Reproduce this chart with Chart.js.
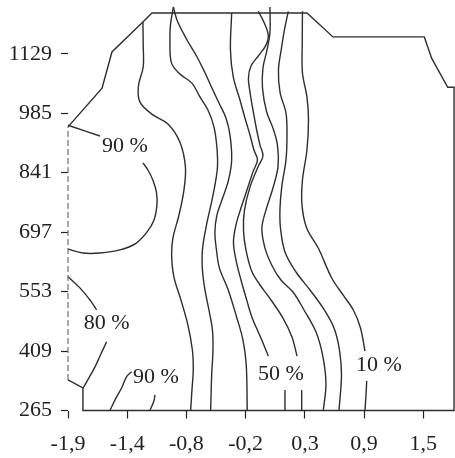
<!DOCTYPE html>
<html>
<head>
<meta charset="utf-8">
<script src="https://cdn.jsdelivr.net/npm/chart.js@4.4.1/dist/chart.umd.min.js"></script>
<style>
  html, body { margin: 0; padding: 0; background: #fff; }
  canvas { display: block; }
</style>
</head>
<body>
<canvas id="c" width="455" height="458"></canvas>
<script>
// Axis ticks: x positions are evenly spaced tick slots carrying rounded labels
const xTickLabels = ['-1,9', '-1,4', '-0,8', '-0,2', '0,3', '0,9', '1,5'];
const yTicks = [265, 409, 553, 697, 841, 985, 1129];

// Outline of the measured domain, [xSlot, y]
const domainEdge = [[0,952],[0.575,1046],[0.742,1133.5],[1.265,1206],[1.417,1228],[4.035,1228],
  [4.475,1170],[6.017,1170],[6.142,1118],[6.412,1048],[6.519,1048],[6.519,265],
  [0.252,265],[0.252,319.5],[0,339]];
const domainLeft = [[0,339],[0,952]];

// Iso-lines
const iso90TopA = [[0,956],[0.539,930]];
const iso90TopB = [[1.265,865],[1.35,847.6],[1.434,823],[1.493,794],[1.502,763],[1.451,726],
  [1.333,697],[1.147,670],[0.877,654],[0.539,646.5],[0.252,646.5],[0,656]];
const iso80A = [[0,589],[0.2,562],[0.37,533],[0.483,508.5]];
const iso80B = [[0.652,431.5],[0.556,402],[0.454,370],[0.353,344],[0.257,319.5]];
const iso90BotA = [[1.074,359],[0.99,347],[0.905,319.5],[0.809,295],[0.708,265]];
const iso90BotB = [[1.468,303],[1.451,288],[1.383,265]];

const lineA = [[1.265,1206],[1.27,1150],[1.27,1097],[1.189,1051],[1.215,1012],[1.434,981],
  [1.688,959],[1.89,915],[1.983,855],[1.958,799],[1.873,738],[1.772,683],[1.75,642],
  [1.789,588],[1.907,533],[2.025,472],[2.101,411],[2.115,363],[2.093,314.5],[2.071,265]];
const lineB = [[1.78,1242.5],[1.73,1199],[1.721,1163],[1.747,1107],[1.89,1080],[2.093,1058],
  [2.228,1024.5],[2.363,993],[2.465,952],[2.515,901],[2.524,855],[2.481,811],[2.414,763],
  [2.338,714],[2.27,654],[2.27,605.5],[2.313,557],[2.38,508.5],[2.439,460],[2.448,411.5],
  [2.426,351],[2.409,265]];
const lineC = [[1.78,1242.5],[1.84,1211],[2.008,1163],[2.177,1122],[2.313,1083],[2.431,1046],
  [2.549,1010],[2.667,973.5],[2.735,932.5],[2.764,872],[2.71,823],[2.617,782],[2.515,738.5],
  [2.481,697],[2.507,654],[2.557,610],[2.706,557],[2.848,491],[2.954,436],[3.01,375],[3.027,265]];
const lineD = [[2.764,1228],[2.743,1138],[2.791,1073],[2.904,1017],[2.988,973.5],[3.073,932.5],
  [3.14,896],[3.199,872],[3.123,843],[3.022,799],[2.921,755.5],[2.836,714],[2.794,673],
  [2.836,630],[2.921,581],[3.017,533],[3.106,491],[3.258,440.5],[3.382,397]];
const lineDLow = [[3.664,314.5],[3.664,265]];
const lineE = [[3.213,1232],[3.307,1206],[3.382,1174.5],[3.343,1150],[3.225,1126],[3.09,1099.5],
  [3.047,1070.5],[3.073,1036.5],[3.123,993],[3.186,944.5],[3.242,908],[3.292,881.5],[3.208,855],
  [3.073,806],[2.98,750.5],[2.963,702],[3.005,654],[3.101,603],[3.242,569],[3.382,542],
  [3.63,489],[3.782,443],[3.867,397]];
const lineELow = [[3.946,314.5],[3.946,265]];
const lineF = [[3.41,1242.5],[3.41,1180],[3.36,1138],[3.292,1094.5],[3.284,1046],[3.355,988],
  [3.461,949],[3.537,908],[3.546,855],[3.461,804],[3.343,750.5],[3.274,707],[3.326,658.5],
  [3.439,617.5],[3.596,581],[3.799,552],[3.985,508.5],[4.188,455],[4.306,394.5],[4.356,329],[4.311,265]];
const lineG = [[3.72,1232],[3.655,1187],[3.605,1143],[3.554,1090],[3.58,1036.5],[3.681,985.5],
  [3.698,932.5],[3.681,872],[3.613,811],[3.58,755.5],[3.588,707],[3.664,649],[3.85,600.5],
  [4.086,557],[4.306,513.5],[4.492,465],[4.584,411.5],[4.618,351],[4.576,265]];
const lineH = [[3.959,1232],[3.956,1163],[3.959,1083],[4.035,1024.5],[4.061,968.5],[4.035,896],
  [3.959,823],[3.951,763],[4.03,707],[4.226,658.5],[4.453,586],[4.644,545],[4.818,508.5],
  [4.939,465],[5.015,409]];
const lineHLow = [[5.044,336.5],[5.032,302.5],[5.015,265]];

// Level labels
const levelText = ['90 %', '80 %', '90 %', '50 %', '10 %'];
const levelX = [0.961, 0.652, 1.485, 3.596, 5.252];
const levelY = [904.5, 477, 346, 353.5, 375];

const INK = '#2e2e2e';
const FONT = '"Liberation Serif", "Times New Roman", serif';

function toPts(arr) { return arr.map(([x, y]) => ({ x, y })); }

function curve(arr) {
  return { data: toPts(arr), showLine: true, pointRadius: 0, borderColor: INK,
           borderWidth: 1.4, tension: 0.35, fill: false, clip: false };
}

const datasets = [
  { data: toPts(domainEdge), showLine: true, pointRadius: 0, borderColor: INK,
    borderWidth: 1.4, tension: 0, fill: false, clip: false },
  { data: toPts(domainLeft), showLine: true, pointRadius: 0, borderColor: '#666',
    borderWidth: 1.1, borderDash: [6, 3], tension: 0, fill: false, clip: false },
  ...[iso90TopA, iso90TopB, iso80A, iso80B, iso90BotA, iso90BotB,
      lineA, lineB, lineC, lineD, lineDLow, lineE, lineELow, lineF, lineG, lineH, lineHLow].map(curve)
];

const levelLabels = {
  id: 'levelLabels',
  afterDatasetsDraw(chart) {
    const { ctx, scales: { x, y } } = chart;
    ctx.save();
    ctx.font = '22px ' + FONT;
    ctx.fillStyle = '#222';
    ctx.textAlign = 'center';
    ctx.textBaseline = 'middle';
    levelText.forEach((t, i) => {
      ctx.fillText(t, x.getPixelForValue(levelX[i]), y.getPixelForValue(levelY[i]));
    });
    ctx.restore();
  }
};

// tick labels sit well inside the axis range, so no edge padding is needed
function noEdgePadding(s) {
  s.paddingTop = 0; s.paddingBottom = 0; s.paddingLeft = 0; s.paddingRight = 0;
}

new Chart(document.getElementById('c'), {
  type: 'scatter',
  data: { datasets },
  plugins: [levelLabels],
  options: {
    responsive: false,
    animation: false,
    devicePixelRatio: 1,
    layout: { padding: { top: 8, right: 0, left: 0, bottom: 0 } },
    plugins: { legend: { display: false }, tooltip: { enabled: false } },
    scales: {
      x: {
        type: 'linear', min: 0, max: 6.535,
        afterBuildTicks(s) { s.ticks = xTickLabels.map((_, i) => ({ value: i })); },
        afterFit(s) { s.height = 47.5; noEdgePadding(s); },
        border: { display: false },
        grid: { drawOnChartArea: false, drawTicks: true, tickLength: 8, tickColor: '#222', tickWidth: 1.2 },
        ticks: { callback: (v) => xTickLabels[Math.round(v)], font: { family: FONT, size: 22 },
                 color: '#222', padding: 13, maxRotation: 0, autoSkip: false }
      },
      y: {
        type: 'linear', min: 265, max: 1240,
        afterBuildTicks(s) { s.ticks = yTicks.map(v => ({ value: v })); },
        afterFit(s) { s.width = 68; noEdgePadding(s); },
        border: { display: false },
        grid: { drawOnChartArea: false, drawTicks: true, tickLength: 7, tickColor: '#222', tickWidth: 1.2 },
        ticks: { callback: (v) => String(v), font: { family: FONT, size: 22 },
                 color: '#222', padding: 9, autoSkip: false }
      }
    }
  }
});
</script>
</body>
</html>
